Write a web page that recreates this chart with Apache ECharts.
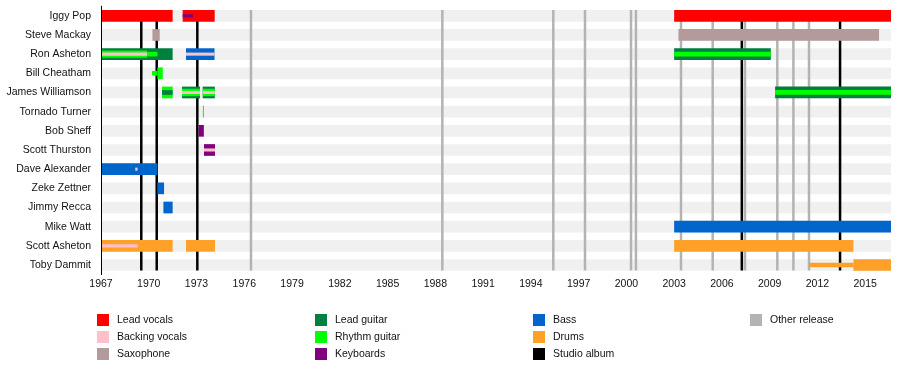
<!DOCTYPE html>
<html><head><meta charset="utf-8">
<script src="https://cdn.jsdelivr.net/npm/echarts@6/dist/echarts.min.js"></script>
<style>html,body{margin:0;padding:0;background:#fff}#c{width:900px;height:380px}</style>
</head><body><div id="c"></div>
<script>
// ---------- data ----------
const members = ['Iggy Pop','Steve Mackay','Ron Asheton','Bill Cheatham','James Williamson','Tornado Turner','Bob Sheff','Scott Thurston','Dave Alexander','Zeke Zettner','Jimmy Recca','Mike Watt','Scott Asheton','Toby Dammit'];
const timelineStart = 1967;
const timelineEnd = 2016.62;
const tickYears = [1967,1970,1973,1976,1979,1982,1985,1988,1991,1994,1997,2000,2003,2006,2009,2012,2015];
const minorTickYears = [1967,1968,1969,1970,1971,1972,1973,1974,1975,1976,1977,1978,1979,1980,1981,1982,1983,1984,1985,1986,1987,1988,1989,1990,1991,1992,1993,1994,1995,1996,1997,1998,1999,2000,2001,2002,2003,2004,2005,2006,2007,2008,2009,2010,2011,2012,2013,2014,2015,2016];
// [member, from, to, tier]  tier: 0 = main role, 1..3 = secondary roles (nested)
const leadVocals = [['Iggy Pop',1967,1971.5,0],['Iggy Pop',1972.13,1974.14,0],['Iggy Pop',2003.0,2016.62,0]];
const backingVocals = [['Ron Asheton',1967,1969.9,3],['Ron Asheton',1972.34,1974.13,3],['James Williamson',1972.09,1973.22,3],['James Williamson',1973.39,1974.15,3],['Scott Thurston',1973.47,1974.16,3],['Dave Alexander',1969.15,1969.3,3],['Scott Asheton',1967,1969.3,3]];
const saxophone = [['Steve Mackay',1970.23,1970.69,0],['Steve Mackay',2003.27,2015.87,0]];
const leadGuitar = [['Ron Asheton',1967,1971.5,0],['Ron Asheton',2003.0,2009.07,0],['James Williamson',1970.83,1971.5,2],['James Williamson',1972.09,1973.22,0],['James Williamson',1973.39,1974.15,0],['James Williamson',2009.34,2016.62,0]];
const rhythmGuitar = [['Ron Asheton',1967,1969.9,1],['Ron Asheton',1969.9,1970.55,2],['Ron Asheton',2003.0,2009.07,2],['James Williamson',1970.83,1971.5,0],['James Williamson',1972.09,1973.22,1],['James Williamson',1973.39,1974.15,1],['James Williamson',2009.34,2016.62,2],['Bill Cheatham',1970.2,1970.54,2],['Bill Cheatham',1970.54,1970.88,0],['Tornado Turner',1973.4,1973.46,0]];
const keyboards = [['Iggy Pop',1972.13,1972.78,3],['Bob Sheff',1973.13,1973.46,0],['Scott Thurston',1973.47,1974.16,0]];
const bass = [['Ron Asheton',1972.34,1974.13,0],['Dave Alexander',1967,1970.55,0],['Zeke Zettner',1970.54,1970.96,0],['Jimmy Recca',1970.92,1971.5,0],['Mike Watt',2003.0,2016.62,0]];
const drums = [['Scott Asheton',1967,1971.5,0],['Scott Asheton',1972.34,1974.16,0],['Scott Asheton',2003.0,2014.26,0],['Toby Dammit',2011.47,2014.26,2],['Toby Dammit',2014.26,2016.62,0]];
const studioAlbums = [1969.53, 1970.5, 1973.05, 2007.25, 2013.42];
const otherReleases = [1976.42, 1988.44, 1995.41, 1997.40, 2000.29, 2000.6, 2003.43, 2005.42, 2007.45, 2009.48, 2010.49, 2011.47];

// ---------- styling ----------
const FONT = '"Liberation Sans", Arial, sans-serif';
const TXT = '#111';
const tierFrac = [0.61, 0.39, 0.245, 0.16];
const axisLift = 4;

function barRender(color, zBase) {
  return function (params, api) {
    const yi = api.value(0);
    const p0 = api.coord([api.value(1), yi]);
    const p1 = api.coord([api.value(2), yi]);
    const band = api.size([0, 1])[1];
    const h = band * tierFrac[api.value(3)];
    return { type: 'rect', z2: zBase + api.value(3),
      shape: { x: p0[0], y: p0[1] - h / 2, width: Math.max(p1[0] - p0[0], 1), height: h },
      style: { fill: color } };
  };
}
function lineRender(color, zBase) {
  return function (params, api) {
    const p = api.coord([api.value(0), 0]);
    const band = api.size([0, 1])[1];
    const y1 = p[1] - band * tierFrac[0] / 2;
    const y2 = params.coordSys.y + params.coordSys.height - axisLift;
    return { type: 'line', z2: zBase,
      shape: { x1: p[0], y1: y1, x2: p[0], y2: y2 },
      style: { stroke: color, lineWidth: 2.5 } };
  };
}
function barSeries(name, color, data) {
  return { type: 'custom', name, z: 5, itemStyle: { color }, renderItem: barRender(color, 10),
    encode: { x: [1, 2], y: 0 }, data };
}
function lineSeries(name, color, years, zBase) {
  return { type: 'custom', name, z: 3, itemStyle: { color }, renderItem: lineRender(color, zBase),
    encode: { x: 0, y: 1 }, data: years.map(v => [v, 0]) };
}

const legendCommon = { orient: 'vertical', top: 314, padding: 0, itemWidth: 12, itemHeight: 12, itemGap: 5,
  icon: 'rect', selectedMode: false,
  textStyle: { fontFamily: FONT, fontSize: 10.5, color: TXT, padding: [0, 0, 0, 3] } };

const chart = echarts.init(document.getElementById('c'), null, { renderer: 'canvas' });
chart.setOption({
  animation: false,
  backgroundColor: '#fff',
  grid: { left: 101, top: 6.2, width: 790, height: 268.4 },
  xAxis: [
    { type: 'value', min: timelineStart, max: timelineEnd, offset: -axisLift, z: 20,
      axisLine: { lineStyle: { color: '#000', width: 1 } },
      axisTick: { customValues: tickYears, length: 5, lineStyle: { color: '#000' } },
      axisLabel: { customValues: tickYears, formatter: v => String(v), fontFamily: FONT, fontSize: 10.5, color: TXT, margin: 8 },
      splitLine: { show: false } },
    { type: 'value', min: timelineStart, max: timelineEnd, offset: -axisLift, position: 'bottom', z: 20,
      axisLine: { show: false },
      axisTick: { customValues: minorTickYears, length: 3, lineStyle: { color: '#000' } },
      axisLabel: { show: false }, splitLine: { show: false } }
  ],
  yAxis: { type: 'category', inverse: true, data: members, z: 20,
    axisLine: { lineStyle: { color: '#000', width: 1 } }, axisTick: { show: false },
    axisLabel: { fontFamily: FONT, fontSize: 10.5, color: TXT, margin: 10 },
    splitLine: { show: false } },
  legend: [
    Object.assign({ left: 97, data: ['Lead vocals', 'Backing vocals', 'Saxophone'] }, legendCommon),
    Object.assign({ left: 315, data: ['Lead guitar', 'Rhythm guitar', 'Keyboards'] }, legendCommon),
    Object.assign({ left: 533, data: ['Bass', 'Drums', 'Studio album'] }, legendCommon),
    Object.assign({ left: 750, data: ['Other release'] }, legendCommon)
  ],
  series: [
    { type: 'custom', name: 'rows', z: 1, silent: true, renderItem: barRender('#f0f0f0', 0),
      encode: { x: [1, 2], y: 0 }, data: members.map(m => [m, timelineStart, timelineEnd, 0]) },
    lineSeries('Other release', '#b3b3b3', otherReleases, 1),
    lineSeries('Studio album', '#000000', studioAlbums, 2),
    barSeries('Lead vocals', '#ff0000', leadVocals),
    barSeries('Backing vocals', '#ffc0cb', backingVocals),
    barSeries('Saxophone', '#b39b9b', saxophone),
    barSeries('Lead guitar', '#00803f', leadGuitar),
    barSeries('Rhythm guitar', '#00ff00', rhythmGuitar),
    barSeries('Keyboards', '#800080', keyboards),
    barSeries('Bass', '#0066cc', bass),
    barSeries('Drums', '#ffa028', drums)
  ]
});
</script></body></html>
